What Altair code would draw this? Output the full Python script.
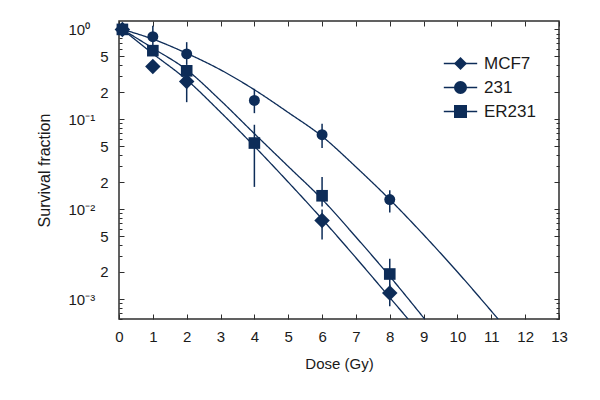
import altair as alt
import pandas as pd

NAVY = "#0d2c58"
FRAME = "#2e2e2e"
FONT = "Liberation Sans Narrow, Liberation Sans, sans-serif"

cells = ["MCF7", "231", "ER231"]
cell_shapes = ["diamond", "circle", "square"]
cell_sizes = [240, 120, 135]

mcf7_dose = [0.1, 1, 2, 6, 8]
mcf7_sf = [1.0, 0.386, 0.263, 0.0075, 0.00117]
mcf7_lo = [1.0, 0.386, 0.155, 0.0046, 0.00083]
mcf7_hi = [1.0, 0.386, 0.33, 0.0099, 0.00145]

mda231_dose = [0.1, 1, 2, 4, 6, 8]
mda231_sf = [1.0, 0.83, 0.534, 0.162, 0.0673, 0.0128]
mda231_lo = [1.0, 0.644, 0.403, 0.117, 0.0479, 0.0092]
mda231_hi = [1.0, 1.1, 0.721, 0.218, 0.089, 0.0162]

er231_dose = [0.1, 1, 2, 4, 6, 8]
er231_sf = [1.0, 0.58, 0.346, 0.0544, 0.0141, 0.0019]
er231_lo = [1.0, 0.58, 0.346, 0.0177, 0.0107, 0.00139]
er231_hi = [1.0, 0.58, 0.346, 0.0869, 0.0228, 0.0028]

# fitted curves
mcf7_fit_dose = [0.1, 1, 2, 3, 4, 5, 6, 7, 8, 8.54]
mcf7_fit_sf = [1.0, 0.537, 0.275, 0.120, 0.0501, 0.02, 0.00776, 0.00288, 0.00104, 0.0006]
mda231_fit_dose = [0.1, 1, 2, 3, 4, 5, 6, 7, 8, 9, 10, 11.2]
mda231_fit_sf = [1.0, 0.78, 0.542, 0.355, 0.213, 0.119, 0.0646, 0.0295, 0.0128, 0.00519, 0.002, 0.0006]
er231_fit_dose = [0.1, 1, 2, 3, 4, 5, 6, 7, 8, 9.03]
er231_fit_sf = [1.0, 0.618, 0.355, 0.162, 0.0692, 0.0299, 0.0129, 0.0049, 0.00179, 0.0006]

# axis ticks
x_ticks = list(range(0, 14))
y_ticks_major = [1, 0.5, 0.2, 0.1, 0.05, 0.02, 0.01, 0.005, 0.002, 0.001]
y_tick_labels = ["10⁰", "5", "2", "10⁻¹", "5", "2", "10⁻²", "5", "2", "10⁻³"]
y_decades = [1, 0.1, 0.01, 0.001]
y_domain = [0.0006, 1.24]
y_ticks_all = [round(k * 10.0 ** e, 8) for e in range(-4, 1) for k in range(1, 10)
               if y_domain[0] <= k * 10.0 ** e <= y_domain[1]]

W, H = 440, 298

points = pd.concat([
    pd.DataFrame({"cell": "MCF7", "dose": mcf7_dose, "sf": mcf7_sf, "lo": mcf7_lo, "hi": mcf7_hi}),
    pd.DataFrame({"cell": "231", "dose": mda231_dose, "sf": mda231_sf, "lo": mda231_lo, "hi": mda231_hi}),
    pd.DataFrame({"cell": "ER231", "dose": er231_dose, "sf": er231_sf, "lo": er231_lo, "hi": er231_hi}),
], ignore_index=True)

curves = pd.concat([
    pd.DataFrame({"cell": "MCF7", "dose": mcf7_fit_dose, "sf": mcf7_fit_sf}),
    pd.DataFrame({"cell": "231", "dose": mda231_fit_dose, "sf": mda231_fit_sf}),
    pd.DataFrame({"cell": "ER231", "dose": er231_fit_dose, "sf": er231_fit_sf}),
], ignore_index=True)

# label expression and conditions for the log axis
label_expr = "''"
for v, lab in reversed(list(zip(y_ticks_major, y_tick_labels))):
    label_expr = f"datum.value == {v} ? '{lab}' : {label_expr}"
is_decade = f"indexof({y_decades}, datum.value) >= 0"
is_major = f"indexof({y_ticks_major}, datum.value) >= 0"

x_scale = alt.Scale(domain=[0, 13], nice=False, zero=False)
y_scale = alt.Scale(type="log", domain=y_domain, nice=False)

# axes: labels outside, ticks pointing inward on all four sides
y_label_axis = alt.Axis(
    orient="left", values=y_ticks_major, labelExpr=label_expr, ticks=False, tickSize=0,
    domain=False, grid=False, labelOverlap=False, labelFontSize=15, labelBaseline="middle",
    labelAlign={"condition": {"test": is_decade, "value": "left"}, "value": "right"},
    labelPadding={"condition": {"test": is_decade, "value": 51}, "value": 11},
    title="Survival fraction", titleX=-75, titleY=H / 2, titleBaseline="middle",
    titleFontSize=16, titleFontWeight="normal",
)
y_ticks_left = alt.Axis(
    orient="right", offset=-W, values=y_ticks_all, labels=False, domain=False, grid=False,
    title=None, tickSize={"condition": {"test": is_major, "value": 5}, "value": 3},
)
y_ticks_right = alt.Axis(
    orient="left", offset=-W, values=y_ticks_all, labels=False, domain=False, grid=False,
    title=None, tickSize={"condition": {"test": is_major, "value": 5}, "value": 3},
)
x_label_axis = alt.Axis(
    orient="bottom", values=x_ticks, ticks=False, tickSize=0, domain=False, grid=False,
    labelPadding=10, labelFlush=False, labelFontSize=15,
    title="Dose (Gy)", titleY=44, titleBaseline="middle", titleFontSize=15, titleFontWeight="normal",
)
x_ticks_bottom = alt.Axis(orient="top", offset=-H, values=x_ticks, labels=False, domain=False,
                          grid=False, title=None, tickSize=5)
x_ticks_top = alt.Axis(orient="bottom", offset=-H, values=x_ticks, labels=False, domain=False,
                       grid=False, title=None, tickSize=5)

# two legends drawn on top of each other: a line through each marker
legend_pos = dict(orient="none", legendX=333, legendY=34, padding=0, symbolSize=170,
                  labelFontSize=17, rowPadding=6, labelOffset=15)
line_legend = alt.Legend(
    title=None, symbolType="M-2.56,0H2.56", symbolStrokeWidth=1.5, symbolStrokeColor=NAVY,
    symbolFillColor="transparent", labelExpr="' '", labelOpacity=0, **legend_pos,
)
shape_legend = alt.Legend(
    title=None, symbolFillColor=NAVY, symbolStrokeColor=NAVY, symbolStrokeWidth=0,
    labelColor="#1a1a1a", **legend_pos,
)

axis_sets = [
    (y_label_axis, x_label_axis),
    (y_ticks_left, x_ticks_bottom),
    (y_ticks_right, x_ticks_top),
]

layers = []
for cell, (y_axis, x_axis) in zip(cells, axis_sets):
    layer = alt.Chart(curves).mark_line(color=NAVY, strokeWidth=1.3, clip=True, interpolate="monotone").encode(
        x=alt.X("dose:Q", scale=x_scale, axis=x_axis),
        y=alt.Y("sf:Q", scale=y_scale, axis=y_axis),
        strokeDash=alt.StrokeDash("cell:N", sort=cells,
                                  scale=alt.Scale(range=[[1, 0], [1, 0], [1, 0]]),
                                  legend=line_legend),
    ).transform_filter(
        alt.datum.cell == cell
    )
    layers.append(layer)

errorbars = alt.Chart(points).mark_rule(color=NAVY, strokeWidth=1.5).encode(
    x=alt.X("dose:Q", scale=x_scale, axis=None),
    y=alt.Y("lo:Q", scale=y_scale, axis=None),
    y2="hi:Q",
).transform_filter("datum.lo < datum.hi")
layers.append(errorbars)

for cell, size in zip(cells, cell_sizes):
    layer = alt.Chart(points).mark_point(filled=True, color=NAVY, opacity=1, size=size).encode(
        x=alt.X("dose:Q", scale=x_scale, axis=None),
        y=alt.Y("sf:Q", scale=y_scale, axis=None),
        shape=alt.Shape("cell:N", sort=cells, scale=alt.Scale(range=cell_shapes), legend=shape_legend),
    ).transform_filter(
        alt.datum.cell == cell
    )
    layers.append(layer)

chart = alt.layer(*layers).resolve_axis(
    x="independent", y="independent"
).properties(
    width=W,
    height=H,
    padding={"left": 111, "top": 13, "right": 30, "bottom": 60},
    autosize=alt.AutoSizeParams(type="none"),
).configure_axis(
    labelFont=FONT, titleFont=FONT, labelColor="#1a1a1a", titleColor="#1a1a1a",
    tickColor=FRAME, tickWidth=1,
).configure_legend(
    labelFont=FONT,
).configure_view(
    stroke=FRAME, strokeWidth=1.5,
)

chart.save("out.html", embed_options={"renderer": "svg", "actions": False})
